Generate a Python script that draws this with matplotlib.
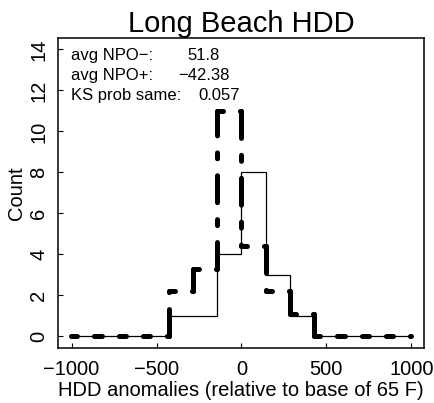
import numpy as np
import matplotlib
matplotlib.use("Agg")
import matplotlib.pyplot as plt

plt.rcParams['font.family'] = ['Liberation Sans', 'DejaVu Sans']
plt.rcParams['lines.scale_dashes'] = False

# bin edges of the HDD anomaly histograms (143 wide)
edges = np.arange(-1001, 1002, 143)
# solid line (all years)
counts_all = [0, 0, 0, 0, 1, 1, 4, 8, 3, 1, 0, 0, 0, 0]
# thick dot-dash line (scaled NPO counts)
counts_npo = [0, 0, 0, 0, 2.2, 3.3, 11, 4.4, 2.2, 1.1, 0, 0, 0, 0]

stat_labels = ["avg NPO\u2212:", "avg NPO+:", "KS prob same:"]
stat_values = ["51.8", "\u221242.38", "0.057"]

fig = plt.figure(figsize=(4.35, 4.03), dpi=100)
ax = fig.add_axes([58/435, 1-347.7/403, (424-58)/435, (347.7-38)/403])

# dot-dash histogram, each segment drawn on its own (pattern restarts)
lw = 3.6
dot, gap, dash = 4.3, 12.2, 19.4
for i in range(len(counts_npo)):
    ax.plot([edges[i], edges[i+1]], [counts_npo[i], counts_npo[i]], color='black',
            lw=lw, linestyle=(0, (dot, gap, dash, gap)), solid_capstyle='round',
            dash_capstyle='round')
    if i > 0 and counts_npo[i] != counts_npo[i-1]:
        ax.plot([edges[i], edges[i]], [counts_npo[i-1], counts_npo[i]], color='black',
                lw=lw, linestyle=(0, (dash, gap, dot, gap)), dash_capstyle='round')

ax.stairs(counts_all, edges, color='black', lw=0.9, baseline=None)

ax.set_xlim(-1080, 1075)
ax.set_ylim(-0.56, 14.56)
ax.set_xticks([-1000, -500, 0, 500, 1000])
ax.set_yticks(range(0, 15, 2))
ax.tick_params(direction='in', length=3.5, width=0.8, labelsize=14.5, colors='black')
ax.tick_params(axis='x', pad=9)
ax.tick_params(axis='y', labelrotation=90, pad=7)
for lab in ax.get_yticklabels():
    lab.set_verticalalignment('center')
for s in ax.spines.values():
    s.set_linewidth(1.1)

ax.set_xlabel("HDD anomalies (relative to base of 65 F)", fontsize=14.5, labelpad=1)
ax.set_ylabel("Count", fontsize=14.5, labelpad=2)
ax.set_title("Long Beach HDD", fontsize=21, pad=4)

# stats text block
label_y = [60, 80, 100]
value_x = [187, 178, 198]
for lab, val, yy, vx in zip(stat_labels, stat_values, label_y, value_x):
    fig.text(71/435, 1-yy/403, lab, fontsize=12, va='baseline', ha='left')
    fig.text(vx/435, 1-yy/403, val, fontsize=12, va='baseline', ha='left')

fig.savefig("out.png", dpi=100)
